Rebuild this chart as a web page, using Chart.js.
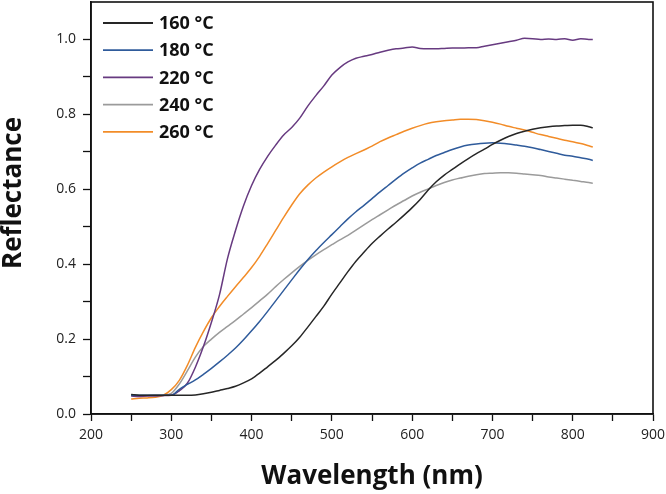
<!DOCTYPE html>
<html>
<head>
<meta charset="utf-8">
<script src="https://cdn.jsdelivr.net/npm/chart.js@4.4.0/dist/chart.umd.min.js"></script>
<style>
  html, body { margin: 0; padding: 0; background: #fff; }
  #wrap { width: 666px; height: 494px; }
</style>
</head>
<body>
<div id="wrap"><canvas id="myChart" width="666" height="494"></canvas></div>
<script>
// wavelength (nm)
var wavelength = [250, 260, 270, 280, 290, 300, 310, 320, 330, 340, 350, 360, 370, 380, 390,
  400, 410, 420, 430, 440, 450, 460, 470, 480, 490, 500, 510, 520, 530, 540, 550, 560, 570,
  580, 590, 600, 610, 620, 630, 640, 650, 660, 670, 680, 690, 700, 710, 720, 730, 740, 750,
  760, 770, 780, 790, 800, 810, 820, 825];

var r160 = [0.052, 0.050, 0.050, 0.050, 0.050, 0.050, 0.050, 0.050, 0.051, 0.054, 0.058, 0.063, 0.068, 0.074, 0.083,
  0.094, 0.109, 0.126, 0.143, 0.162, 0.182, 0.205, 0.232, 0.260, 0.288, 0.320, 0.350, 0.380, 0.408, 0.432, 0.455, 0.475, 0.494,
  0.512, 0.531, 0.551, 0.573, 0.598, 0.620, 0.638, 0.653, 0.668, 0.682, 0.695, 0.707, 0.720, 0.731, 0.741, 0.749, 0.755, 0.760,
  0.764, 0.767, 0.769, 0.770, 0.771, 0.771, 0.767, 0.764];

var r180 = [0.050, 0.050, 0.050, 0.050, 0.050, 0.050, 0.066, 0.079, 0.091, 0.106, 0.122, 0.139, 0.157, 0.176, 0.198,
  0.222, 0.247, 0.274, 0.302, 0.330, 0.358, 0.386, 0.412, 0.436, 0.458, 0.479, 0.500, 0.521, 0.540, 0.557, 0.575, 0.593, 0.610,
  0.627, 0.643, 0.657, 0.670, 0.680, 0.690, 0.698, 0.706, 0.713, 0.718, 0.721, 0.723, 0.724, 0.723, 0.721, 0.718, 0.715, 0.711,
  0.706, 0.701, 0.696, 0.691, 0.688, 0.684, 0.680, 0.677];

var r220 = [0.048, 0.047, 0.048, 0.048, 0.049, 0.050, 0.062, 0.082, 0.125, 0.180, 0.245, 0.318, 0.415, 0.490, 0.556,
  0.610, 0.653, 0.688, 0.718, 0.745, 0.765, 0.790, 0.822, 0.850, 0.876, 0.905, 0.925, 0.940, 0.950, 0.955, 0.960, 0.966, 0.971,
  0.975, 0.977, 0.980, 0.976, 0.975, 0.975, 0.976, 0.977, 0.977, 0.978, 0.978, 0.982, 0.986, 0.990, 0.994, 0.998, 1.003, 1.002,
  1.000, 1.001, 1.000, 1.002, 0.998, 1.002, 1.000, 1.000];

var r240 = [0.050, 0.048, 0.049, 0.050, 0.050, 0.055, 0.080, 0.115, 0.152, 0.180, 0.200, 0.218, 0.234, 0.250, 0.267,
  0.284, 0.302, 0.320, 0.340, 0.359, 0.377, 0.394, 0.410, 0.425, 0.439, 0.452, 0.465, 0.477, 0.491, 0.505, 0.519, 0.532, 0.545,
  0.558, 0.570, 0.582, 0.592, 0.601, 0.610, 0.618, 0.625, 0.630, 0.635, 0.639, 0.642, 0.643, 0.644, 0.644, 0.643, 0.641, 0.639,
  0.637, 0.633, 0.630, 0.627, 0.624, 0.621, 0.618, 0.616];

var r260 = [0.040, 0.042, 0.043, 0.045, 0.050, 0.065, 0.090, 0.130, 0.178, 0.220, 0.257, 0.287, 0.314, 0.340, 0.365,
  0.391, 0.421, 0.455, 0.490, 0.525, 0.558, 0.588, 0.611, 0.630, 0.646, 0.660, 0.673, 0.685, 0.695, 0.705, 0.715, 0.727, 0.737,
  0.746, 0.755, 0.763, 0.770, 0.776, 0.780, 0.783, 0.785, 0.787, 0.787, 0.786, 0.783, 0.779, 0.774, 0.768, 0.763, 0.758, 0.752,
  0.746, 0.741, 0.736, 0.731, 0.727, 0.722, 0.716, 0.713];

var seriesNames = ['160 °C', '180 °C', '220 °C', '240 °C', '260 °C'];
var seriesColors = ['#262626', '#2f5b9b', '#673a80', '#9b9b9b', '#f28c28'];
var seriesValues = [r160, r180, r220, r240, r260];

var xTicks = [200, 300, 400, 500, 600, 700, 800, 900];
var yTicks = [0.0, 0.2, 0.4, 0.6, 0.8, 1.0];

function makePoints(vals) {
  return wavelength.map(function (w, i) { return { x: w, y: vals[i] }; });
}

var datasets = seriesNames.map(function (name, i) {
  return {
    label: name,
    data: makePoints(seriesValues[i]),
    borderColor: seriesColors[i],
    backgroundColor: seriesColors[i],
    borderWidth: 1.5,
    pointRadius: 0,
    cubicInterpolationMode: 'monotone',
    fill: false
  };
});

// frame round the plot (top + right sides) and y title
var frame = {
  id: 'frame',
  afterDraw: function (chart) {
    var a = chart.chartArea, c = chart.ctx;
    c.save();
    c.strokeStyle = '#111';
    c.lineWidth = 1.6;
    c.strokeRect(a.left, a.top, a.right - a.left, a.bottom - a.top);
    c.restore();

    c.save();
    c.translate(14, 193);
    c.rotate(-Math.PI / 2);
    c.font = 'bold 26px "Open Sans"';
    c.fillStyle = '#111';
    c.textAlign = 'center';
    c.textBaseline = 'middle';
    c.fillText('Reflectance', 0, 0);
    c.restore();
  }
};

// legend inside the plot, upper left
var innerLegend = {
  id: 'innerLegend',
  afterDatasetsDraw: function (chart) {
    var c = chart.ctx;
    c.save();
    c.font = 'bold 18px "Open Sans"';
    c.textBaseline = 'middle';
    c.textAlign = 'left';
    seriesNames.forEach(function (name, i) {
      var y = 23 + i * 27.2;
      c.strokeStyle = seriesColors[i];
      c.lineWidth = 1.8;
      c.beginPath();
      c.moveTo(103, y);
      c.lineTo(153, y);
      c.stroke();
      c.fillStyle = '#111';
      c.fillText(name, 159, y + 1);
    });
    c.restore();
  }
};

var ctx = document.getElementById('myChart').getContext('2d');

var myChart = new Chart(ctx, {
  type: 'line',
  data: { datasets: datasets },
  plugins: [frame, innerLegend],
  options: {
    responsive: false,
    animation: false,
    layout: { padding: { top: 2, right: 13, left: 0, bottom: 0 } },
    plugins: {
      legend: { display: false },
      tooltip: { enabled: false }
    },
    scales: {
      x: {
        type: 'linear',
        min: 200,
        max: 900,
        afterFit: function (s) {
          s.height = 80;
          s.paddingLeft = 0; s.paddingRight = 0;
        },
        afterBuildTicks: function (s) {
          var t = [];
          for (var v = 200; v <= 900; v += 50) t.push({ value: v });
          s.ticks = t;
        },
        border: { display: true, color: '#111', width: 1.6 },
        grid: { drawOnChartArea: false, drawTicks: true, tickLength: 7, tickColor: '#111', tickWidth: 1.3 },
        ticks: {
          autoSkip: false,
          maxRotation: 0,
          padding: 6,
          color: '#222',
          font: { family: '"Open Sans"', size: 14 },
          callback: function (v) { return xTicks.indexOf(v) >= 0 ? String(v) : ''; }
        },
        title: {
          display: true,
          text: 'Wavelength (nm)',
          color: '#111',
          font: { family: '"Open Sans"', size: 26, weight: 'bold', lineHeight: 1 },
          padding: { top: 0, bottom: 4 }
        }
      },
      y: {
        type: 'linear',
        min: 0,
        max: 1.1,
        afterFit: function (s) {
          s.width = 91;
          s.paddingTop = 0; s.paddingBottom = 0;
        },
        afterBuildTicks: function (s) {
          var t = [];
          for (var k = 0; k <= 10; k++) t.push({ value: k / 10 });
          s.ticks = t;
        },
        border: { display: true, color: '#111', width: 1.6 },
        grid: { drawOnChartArea: false, drawTicks: true, tickLength: 8, tickColor: '#111', tickWidth: 1.3 },
        ticks: {
          autoSkip: false,
          padding: 7,
          color: '#222',
          font: { family: '"Open Sans"', size: 14 },
          callback: function (v) {
            var k = Math.round(v * 10);
            return k % 2 === 0 ? (k / 10).toFixed(1) : '';
          }
        },
        title: { display: false }
      }
    }
  }
});
</script>
</body>
</html>
